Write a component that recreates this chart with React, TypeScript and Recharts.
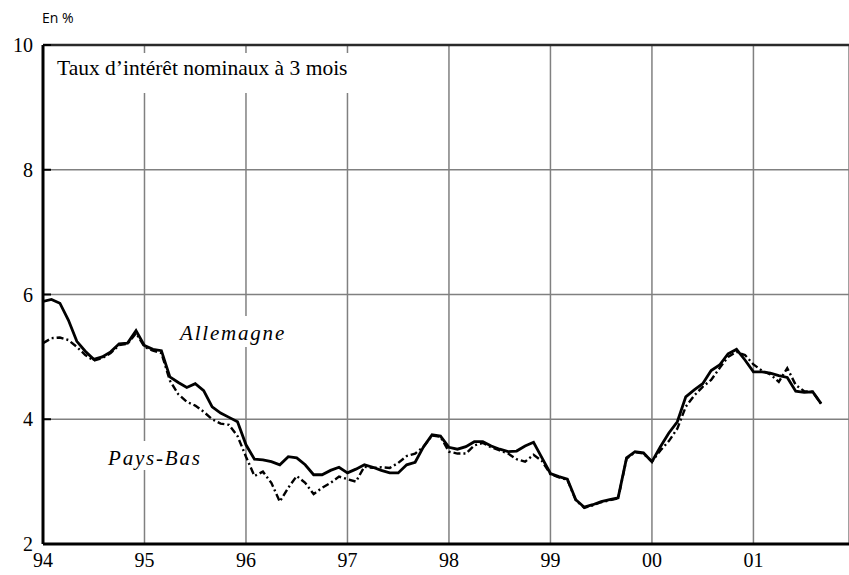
import React from 'react';
import {
  LineChart,
  Line,
  XAxis,
  YAxis,
  CartesianGrid,
  ReferenceLine,
} from 'recharts';

// monthly 3-month nominal rates, Jan 1994 .. Sep 2001
const allemagne: number[] = [
  5.89, 5.92, 5.86, 5.59, 5.25, 5.09, 4.96, 5.0, 5.08, 5.21, 5.22, 5.42,
  5.18, 5.12, 5.1, 4.68, 4.59, 4.51, 4.57, 4.46, 4.2, 4.1, 4.03, 3.96,
  3.59, 3.36, 3.35, 3.32, 3.27, 3.4, 3.38, 3.27, 3.11, 3.11, 3.18, 3.23,
  3.14, 3.2, 3.27, 3.23, 3.18, 3.14, 3.14, 3.27, 3.31, 3.56, 3.75, 3.73,
  3.55, 3.52, 3.56, 3.64, 3.64, 3.57, 3.52, 3.48, 3.49, 3.57, 3.63, 3.38,
  3.13, 3.08, 3.04, 2.71, 2.59, 2.63, 2.68, 2.71, 2.74, 3.38, 3.48, 3.46,
  3.32, 3.56, 3.78, 3.96, 4.36, 4.47, 4.57, 4.78, 4.87, 5.05, 5.12, 4.95,
  4.76, 4.76, 4.74, 4.7, 4.67, 4.45, 4.43, 4.44, 4.25,
];

const paysBas: number[] = [
  5.22, 5.3, 5.31, 5.27, 5.16, 5.03, 4.94, 4.98, 5.06, 5.19, 5.21, 5.38,
  5.16, 5.1, 5.06, 4.62, 4.4, 4.28, 4.22, 4.12, 4.0, 3.93, 3.91, 3.73,
  3.4, 3.09, 3.16, 2.98, 2.68, 2.9, 3.09, 2.98, 2.8, 2.9, 2.98, 3.08,
  3.04, 3.0, 3.24, 3.22, 3.23, 3.22, 3.3, 3.41, 3.45, 3.56, 3.74, 3.72,
  3.48, 3.45, 3.45, 3.58, 3.62, 3.55, 3.5, 3.45, 3.36, 3.32, 3.43, 3.33,
  3.12, 3.07, 3.03, 2.7, 2.58, 2.62, 2.67, 2.7, 2.73, 3.37, 3.47, 3.45,
  3.32, 3.5, 3.65, 3.85, 4.2, 4.38, 4.52, 4.63, 4.82, 5.0, 5.08, 5.03,
  4.88, 4.78, 4.72, 4.6, 4.82, 4.55, 4.45, 4.44, 4.25,
];

const yearLabels: string[] = ['94', '95', '96', '97', '98', '99', '00', '01'];
const yTicks: number[] = [2, 4, 6, 8, 10];

const data = allemagne.map((v, i) => ({ m: i, de: v, nl: paysBas[i] }));
const xTicks = yearLabels.map((_, i) => i * 12);

const serif = "'Liberation Serif'";

const renderYTick = (props: any) => {
  const { x, y, payload } = props;
  return (
    <g key={`y-${payload.value}`}>
      <line x1={x + 10} x2={x + 18} y1={y} y2={y} stroke="#000" strokeWidth={2} />
      <text x={x} y={y} dy={7} textAnchor="end" className="serif-tick" fontSize={20} fill="#000">
        {payload.value}
      </text>
    </g>
  );
};

const renderXTick = (props: any) => {
  const { x, y, payload } = props;
  return (
    <text
      key={`x-${payload.value}`}
      x={x}
      y={y}
      dy={15}
      textAnchor="middle"
      className="serif-tick"
      fontSize={20}
      fill="#000"
    >
      {yearLabels[payload.value / 12]}
    </text>
  );
};

const boxLabel = (left: number, top: number, text: string, italic: boolean, padding: string) => (
  <div
    style={{
      position: 'absolute',
      left,
      top,
      background: '#fff',
      padding,
      fontFamily: serif,
      fontSize: italic ? 21 : 21.5,
      fontStyle: italic ? 'italic' : 'normal',
      letterSpacing: italic ? 1.8 : 0,
      lineHeight: '21px',
      whiteSpace: 'nowrap',
      color: '#000',
    }}
  >
    {text}
  </div>
);

export default function App() {
  return (
    <div
      style={{
        position: 'absolute',
        left: 0,
        top: 0,
        width: 849,
        height: 575,
        background: '#fff',
        fontFamily: serif,
      }}
    >
      <style>{`
        .recharts-wrapper svg text,
        .recharts-wrapper svg tspan,
        .serif-tick {
          font-family: 'Liberation Serif', serif !important;
          font-size: 20px !important;
        }
      `}</style>
      <LineChart
        width={849}
        height={575}
        data={data}
        margin={{ top: 45, right: 0, bottom: 0, left: 0 }}
      >
        <CartesianGrid stroke="#808080" strokeWidth={1.5} />
        <XAxis
          dataKey="m"
          type="number"
          domain={[0, 95.3]}
          ticks={xTicks}
          height={31}
          tickLine={false}
          tickSize={0}
          tickMargin={8}
          axisLine={{ stroke: '#000', strokeWidth: 3 }}
          tick={renderXTick}
          allowDataOverflow
        />
        <YAxis
          type="number"
          domain={[2, 10]}
          ticks={yTicks}
          width={43}
          tickLine={false}
          tickSize={0}
          tickMargin={10}
          axisLine={{ stroke: '#000', strokeWidth: 3 }}
          tick={renderYTick}
          allowDataOverflow
        />
        <ReferenceLine y={10} stroke="#2a2a2a" strokeWidth={2.5} />
        <Line
          dataKey="nl"
          stroke="#000"
          strokeWidth={2.4}
          strokeDasharray="7 3 2 3"
          dot={false}
          isAnimationActive={false}
        />
        <Line
          dataKey="de"
          stroke="#000"
          strokeWidth={2.8}
          dot={false}
          isAnimationActive={false}
        />
      </LineChart>
      <div
        style={{
          position: 'absolute',
          left: 42,
          top: 8,
          fontFamily: "'Open Sans'",
          fontSize: 14,
          color: '#000',
        }}
      >
        En %
      </div>
      {boxLabel(51, 53, 'Taux d\u2019intérêt nominaux à 3 mois', false, '5px 6px 14px')}
      {boxLabel(174, 316, 'Allemagne', true, '7px 6px 3px')}
      {boxLabel(102, 441, 'Pays-Bas', true, '7px 6px 1px')}
    </div>
  );
}
